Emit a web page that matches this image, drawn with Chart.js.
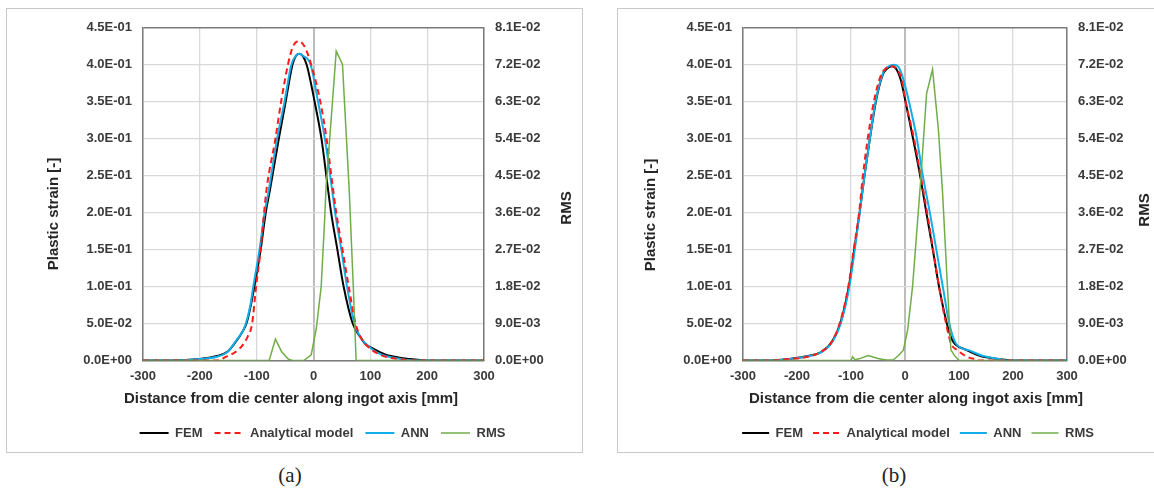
<!DOCTYPE html>
<html>
<head>
<meta charset="utf-8">
<script src="https://cdn.jsdelivr.net/npm/chart.js@4.4.1/dist/chart.umd.min.js"></script>
<style>
  html, body { margin: 0; padding: 0; background: #fff; width: 1154px; height: 489px; overflow: hidden; }
  .panel { position: absolute; top: 8px; height: 443px; border: 1px solid #c8c8c8; overflow: hidden; background: #fff; }
  #boxA { left: 6px; width: 575px; }
  #boxB { left: 617px; width: 560px; }
  .panel canvas { position: absolute; left: 0; top: 0; }
  .caption { position: absolute; top: 464px; line-height: 22px; font-family: 'Liberation Serif', 'Times New Roman', serif; font-size: 21px; color: #222; transform: translateX(-50%); }
</style>
</head>
<body>
<div class="panel" id="boxA"><canvas id="chartA" width="575" height="443"></canvas></div>
<div class="panel" id="boxB"><canvas id="chartB" width="536" height="443"></canvas></div>
<div class="caption" style="left:290px">(a)</div>
<div class="caption" style="left:894px">(b)</div>
<script>
// axis ranges
const xRange = [-300, 300];
const strainRange = [0, 0.45];
const rmsRange = [0, 0.081];

// panel (a)
const femAX = [-300, -250, -200, -172, -151, -136, -125, -118, -111, -104, -93, -84, -77, -61, -49, -37, -31, -25, -19, -12, 2, 14, 25, 31, 42, 53, 69, 84, 90, 105, 128, 140, 157, 170, 205, 300];
const femAY = [0, 0, 0.002, 0.0057, 0.012, 0.026, 0.039, 0.05, 0.072, 0.10, 0.15, 0.20, 0.229, 0.30, 0.35, 0.40, 0.412, 0.415, 0.412, 0.40, 0.35, 0.30, 0.235, 0.20, 0.15, 0.10, 0.05, 0.03, 0.0234, 0.0159, 0.0075, 0.0055, 0.003, 0.002, 0, 0];

const anaAX = [-300, -165, -157, -145, -130, -116, -108, -101, -93, -87, -82, -67, -57, -45, -36, -26, -16, -4, 12, 23, 33, 40, 51, 62, 74, 84, 100, 120, 140, 160, 175, 300];
const anaAY = [0, 0, 0.004, 0.008, 0.016, 0.032, 0.05, 0.10, 0.15, 0.20, 0.235, 0.30, 0.35, 0.40, 0.425, 0.432, 0.425, 0.40, 0.35, 0.30, 0.24, 0.20, 0.15, 0.10, 0.05, 0.03, 0.016, 0.007, 0.003, 0.001, 0, 0];

const annAX = [-300, -250, -200, -170, -151, -136, -125, -119, -111, -106, -95, -86, -79, -64, -51, -39, -31, -25, -18, -5, 8, 20, 33, 38, 49, 59, 72, 84, 102, 122, 146, 175, 300];
const annAY = [0, 0, 0.002, 0.005, 0.012, 0.027, 0.039, 0.05, 0.075, 0.10, 0.15, 0.20, 0.229, 0.30, 0.35, 0.40, 0.412, 0.415, 0.412, 0.40, 0.35, 0.30, 0.229, 0.20, 0.15, 0.10, 0.05, 0.03, 0.0159, 0.0071, 0.003, 0, 0];

const rmsAX = [-300, -78, -67, -56, -44, -37, -17, -4, 5, 13.5, 19.5, 22, 40, 51, 63, 70, 75, 300];
const rmsAY = [0, 0, 0.0052, 0.0021, 0.0003, 0, 0, 0.0014, 0.0078, 0.018, 0.034, 0.042, 0.0753, 0.0721, 0.041, 0.018, 0, 0];

// panel (b)
const femBX = [-300, -247, -216, -182, -154, -135, -120, -104, -94, -84, -75, -65, -54, -42, -33, -24, -15, -8, 1, 15, 28, 39.5, 51.5, 63, 77.5, 86, 93, 113, 140, 172, 205, 300];
const femBY = [0, 0, 0.002, 0.0057, 0.012, 0.0256, 0.05, 0.10, 0.15, 0.20, 0.25, 0.30, 0.35, 0.385, 0.395, 0.398, 0.393, 0.38, 0.35, 0.30, 0.25, 0.20, 0.15, 0.10, 0.05, 0.03, 0.022, 0.0145, 0.006, 0.0022, 0, 0];

const anaBX = [-300, -247, -215, -180, -155, -136, -121, -105, -95, -85, -78, -69, -57.7, -45, -34, -24, -14, -6, 1, 16.8, 29, 41, 52, 63, 76, 85, 97.5, 113, 131, 140, 300];
const anaBY = [0, 0, 0.002, 0.005, 0.012, 0.025, 0.05, 0.10, 0.15, 0.20, 0.25, 0.30, 0.35, 0.385, 0.396, 0.398, 0.393, 0.38, 0.35, 0.30, 0.25, 0.20, 0.15, 0.10, 0.05, 0.0234, 0.0136, 0.0057, 0.0015, 0, 0];

const annBX = [-300, -245, -215, -180, -153, -134, -119, -103, -93, -84, -75, -65, -54.6, -40, -30, -20.5, -12, -5, 7.4, 22, 33, 46, 58, 70, 82, 94, 119, 145, 175, 190, 300];
const annBY = [0, 0, 0.002, 0.0057, 0.012, 0.0256, 0.05, 0.10, 0.15, 0.20, 0.25, 0.30, 0.35, 0.39, 0.398, 0.40, 0.397, 0.385, 0.35, 0.30, 0.25, 0.20, 0.15, 0.10, 0.05, 0.0234, 0.0136, 0.006, 0.002, 0, 0];

const rmsBX = [-300, -100, -97, -93, -85, -68, -50, -35, -22, -12, -3, 5, 14, 28, 40, 51, 62, 69.5, 79, 85, 91, 100, 300];
const rmsBY = [0, 0, 0.0009, 0.0002, 0.0004, 0.0012, 0.0005, 0.0001, 0.0001, 0.0012, 0.0025, 0.0075, 0.018, 0.042, 0.065, 0.0709, 0.056, 0.041, 0.017, 0.0026, 0.0013, 0, 0];

const seriesLabels = ['FEM', 'Analytical model', 'ANN', 'RMS'];
const xTitle = 'Distance from die center along ingot axis [mm]';
const yTitle = 'Plastic strain [-]';
const y1Title = 'RMS';

const frameColor = '#7a7a7a';
const gridColor = '#d9d9d9';
const textColor = '#3a3a3a';
const tickFont = { family: '"Liberation Sans", Arial, sans-serif', size: 13, weight: 'bold' };

function sci(v) {
    const parts = Number(v).toExponential(1).split('e');
    const n = parseInt(parts[1], 10);
    return parts[0] + 'E' + (n < 0 ? '-' : '+') + String(Math.abs(n)).padStart(2, '0');
}

function pts(xs, ys) {
    return xs.map((x, i) => ({ x: x, y: ys[i] }));
}

// legend keys as short line samples, keeping the dataset dash
function legendItems(chart) {
    const items = Chart.defaults.plugins.legend.labels.generateLabels(chart);
    return items.map(item => {
        const ds = chart.data.datasets[item.datasetIndex];
        item.lineDash = ds.borderDash || [];
        item.lineWidth = ds.borderWidth;
        item.strokeStyle = ds.borderColor;
        item.fillStyle = ds.borderColor;
        return item;
    });
}

// titles drawn at fixed places, the way the original sheet has them
const axisTitles = {
    id: 'axisTitles',
    afterDraw(chart, args, opts) {
        const c = chart.ctx;
        c.save();
        c.font = 'bold 15px "Liberation Sans", Arial, sans-serif';
        c.fillStyle = '#262626';
        c.textAlign = 'center';
        c.textBaseline = 'middle';
        opts.items.forEach(t => {
            c.save();
            c.translate(t.x, t.y);
            if (t.rotate) c.rotate(-Math.PI / 2);
            c.fillText(t.text, 0, 0);
            c.restore();
        });
        c.restore();
    }
};

function makeChart(id, s, lay) {
    const ctx = document.getElementById(id).getContext('2d');
    return new Chart(ctx, {
        type: 'line',
        plugins: [axisTitles],
        data: {
            datasets: [
                {
                    label: seriesLabels[0],
                    data: pts(s.femX, s.femY),
                    borderColor: '#000000',
                    borderWidth: 2,
                    cubicInterpolationMode: 'monotone',
                    yAxisID: 'y',
                    order: 3
                },
                {
                    label: seriesLabels[1],
                    data: pts(s.anaX, s.anaY),
                    borderColor: '#ff1a1a',
                    borderWidth: 2,
                    borderDash: [6, 4],
                    cubicInterpolationMode: 'monotone',
                    yAxisID: 'y',
                    order: 1
                },
                {
                    label: seriesLabels[2],
                    data: pts(s.annX, s.annY),
                    borderColor: '#12aee8',
                    borderWidth: 2,
                    cubicInterpolationMode: 'monotone',
                    yAxisID: 'y',
                    order: 2
                },
                {
                    label: seriesLabels[3],
                    data: pts(s.rmsX, s.rmsY),
                    borderColor: '#70ad47',
                    borderWidth: 1.5,
                    tension: 0,
                    yAxisID: 'y1',
                    order: 0
                }
            ]
        },
        options: {
            responsive: false,
            animation: false,
            layout: { padding: { top: 11, left: lay.padLeft, right: 0, bottom: 2.5 } },
            elements: { point: { radius: 0 } },
            plugins: {
                tooltip: { enabled: false },
                legend: {
                    position: 'bottom',
                    labels: {
                        usePointStyle: true,
                        pointStyle: 'line',
                        pointStyleWidth: lay.keyWidth,
                        padding: lay.legendPad,
                        color: textColor,
                        font: tickFont,
                        generateLabels: legendItems,
                        sort: (a, b) => a.datasetIndex - b.datasetIndex
                    }
                },
                axisTitles: { items: lay.titles }
            },
            scales: {
                x: {
                    type: 'linear',
                    min: xRange[0],
                    max: xRange[1],
                    ticks: { stepSize: 100, padding: 8, maxRotation: 0, color: textColor, font: tickFont },
                    grid: {
                        drawTicks: false,
                        color: c => (c.tick && c.tick.value === 0 ? '#bdbdbd' : gridColor),
                        lineWidth: c => (c.tick && c.tick.value === 0 ? 2 : 1.3)
                    },
                    border: { display: true, color: frameColor, width: 1.5 },
                    afterFit: sc => { sc.height = 66 - lay.legendPad; }
                },
                y: {
                    position: 'left',
                    min: strainRange[0],
                    max: strainRange[1],
                    ticks: { stepSize: 0.05, padding: 11, color: textColor, font: tickFont, callback: v => sci(v) },
                    grid: {
                        drawTicks: false,
                        color: c => (c.index === 9 ? frameColor : gridColor),
                        lineWidth: c => (c.index === 9 ? 1.5 : 1.3)
                    },
                    border: { display: true, color: frameColor, width: 1.5 },
                    afterFit: sc => { sc.width = lay.yWidth; }
                },
                y1: {
                    position: 'right',
                    min: rmsRange[0],
                    max: rmsRange[1],
                    ticks: { stepSize: 0.009, padding: 11, color: textColor, font: tickFont, callback: v => sci(v) },
                    grid: { drawOnChartArea: false, drawTicks: false },
                    border: { display: true, color: frameColor, width: 1.5 },
                    afterFit: sc => { sc.width = lay.y1Width; }
                }
            }
        }
    });
}

makeChart('chartA',
    { femX: femAX, femY: femAY, anaX: anaAX, anaY: anaAY, annX: annAX, annY: annAY, rmsX: rmsAX, rmsY: rmsAY },
    {
        padLeft: 56, yWidth: 80, y1Width: 98, keyWidth: 29, legendPad: 12,
        titles: [
            { text: xTitle, x: 284, y: 390 },
            { text: yTitle, x: 47, y: 205, rotate: true },
            { text: y1Title, x: 560, y: 199, rotate: true }
        ]
    });

makeChart('chartB',
    { femX: femBX, femY: femBY, anaX: anaBX, anaY: anaBY, annX: annBX, annY: annBY, rmsX: rmsBX, rmsY: rmsBY },
    {
        padLeft: 64, yWidth: 61, y1Width: 87, keyWidth: 27, legendPad: 10,
        titles: [
            { text: xTitle, x: 298, y: 390 },
            { text: yTitle, x: 33, y: 206, rotate: true },
            { text: y1Title, x: 527, y: 201, rotate: true }
        ]
    });
</script>
</body>
</html>
